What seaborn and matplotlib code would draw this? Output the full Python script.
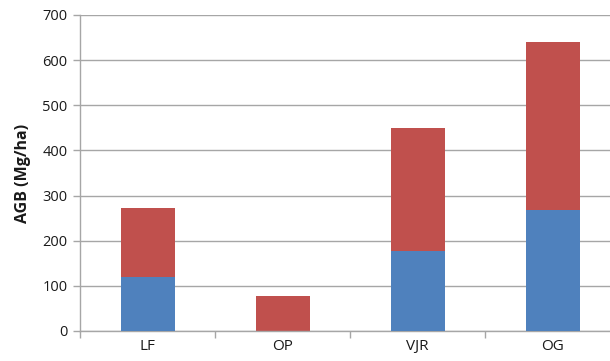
import matplotlib
matplotlib.use("Agg")
import matplotlib.pyplot as plt
import seaborn as sns
import pandas as pd

# Aboveground biomass per forest type (Mg/ha)
sites = ["LF", "OP", "VJR", "OG"]
lower_part = [120, 0, 178, 267]
upper_part = [152, 77.5, 271, 374]

totals = [a + b for a, b in zip(lower_part, upper_part)]
df = pd.DataFrame({"site": sites, "lower": lower_part, "total": totals})

sns.set_theme(style="white")
plt.rcParams["font.family"] = ["Open Sans", "DejaVu Sans"]

fig = plt.figure(figsize=(6.10, 3.61), dpi=100)
ax = fig.add_axes([80 / 610, 30 / 361, 540 / 610, 316 / 361])

grid_c = "#a6a6a6"
ax.set_axisbelow(True)
ax.yaxis.grid(True, color=grid_c, linewidth=1.0)

sns.barplot(data=df, x="site", y="total", color="#c0504d", width=0.4,
            saturation=1, linewidth=0, ax=ax, zorder=2)
sns.barplot(data=df, x="site", y="lower", color="#4f81bd", width=0.4,
            saturation=1, linewidth=0, ax=ax, zorder=3)

ax.set_ylim(0, 700)
ax.set_yticks(range(0, 701, 100))
ax.set_xlim(-0.5, 3.5)

# category separators as tick marks on the x axis
ax.set_xticks([i + 0.5 for i in range(-1, 4)], minor=True)
ax.tick_params(axis="x", which="minor", length=5, color=grid_c, width=1, direction="out")
ax.tick_params(axis="x", which="major", length=0, pad=6, labelsize=11, labelcolor="#1a1a1a")
ax.tick_params(axis="y", length=5, color=grid_c, width=1, direction="out", pad=4,
               labelsize=10.5, labelcolor="#1a1a1a")
ax.xaxis.set_ticks_position("bottom")
ax.yaxis.set_ticks_position("left")

for side in ["top", "right"]:
    ax.spines[side].set_visible(False)
for side in ["left", "bottom"]:
    ax.spines[side].set_color(grid_c)
    ax.spines[side].set_linewidth(1.0)

ax.set_xlabel("")
ax.set_ylabel("AGB (Mg/ha)", fontsize=11.5, fontweight="bold", color="#1a1a1a", labelpad=8)

fig.savefig("out.png", dpi=100)
